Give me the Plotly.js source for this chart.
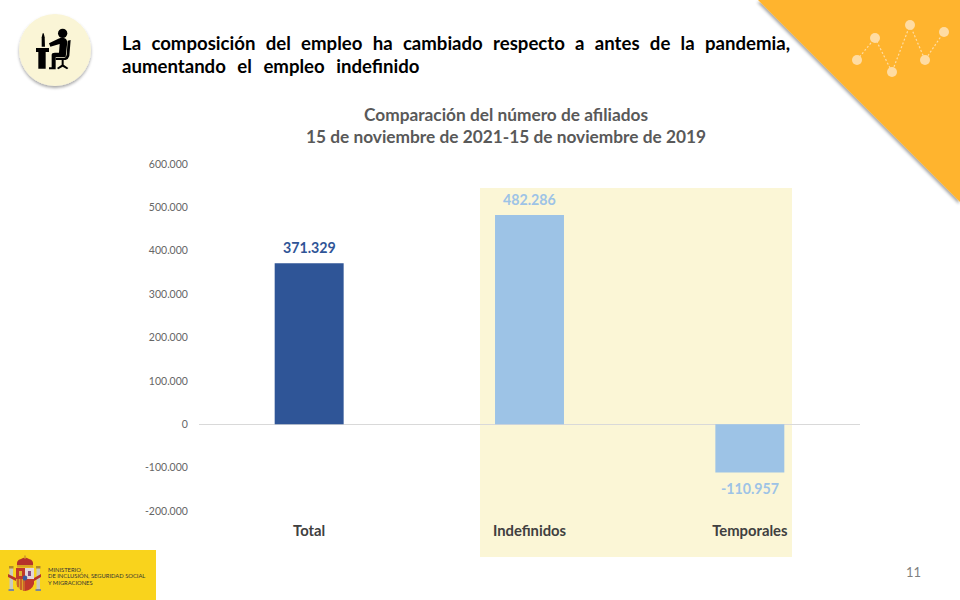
<!DOCTYPE html>
<html><head><meta charset="utf-8">
<script src="https://cdn.plot.ly/plotly-3.0.1.min.js"></script>
<style>
html,body{margin:0;padding:0;background:#fff;width:960px;height:600px;overflow:hidden;font-family:Lato,sans-serif}
#deco{position:absolute;left:0;top:0;z-index:0}
#chart{position:absolute;left:0;top:0;width:960px;height:600px;z-index:1}
.head{position:absolute;left:122px;width:668px;z-index:2;font-weight:700;font-size:18.6px;color:#000;line-height:24px;white-space:nowrap}
#h1{top:31px;text-align:justify;text-align-last:justify;white-space:normal}
#h2{top:54px;word-spacing:7px}
#pg{position:absolute;left:906px;top:564px;font-size:13px;color:#7f7f7f;z-index:2}
</style></head><body>
<svg id="deco" width="960" height="600" viewBox="0 0 960 600">
<defs>
<filter id="sh" x="-20%" y="-20%" width="140%" height="140%"><feDropShadow dx="-1" dy="2" stdDeviation="1.5" flood-color="#000" flood-opacity="0.35"/></filter>
<filter id="sh2" x="-20%" y="-20%" width="140%" height="140%"><feDropShadow dx="0" dy="2" stdDeviation="1.5" flood-color="#000" flood-opacity="0.35"/></filter>
</defs>
<polygon points="758,0 960,0 960,202" fill="#FFB42E" filter="url(#sh)"/>
<g stroke="#FFDCA3" stroke-width="1.2" stroke-dasharray="2 2" fill="none">
<polyline points="857,60 875,38 892,72 910,25 925,60 944,32"/>
</g>
<g fill="#FFDCA3">
<circle cx="857" cy="60" r="5"/><circle cx="875" cy="38" r="5"/><circle cx="892" cy="72" r="5"/>
<circle cx="910" cy="25" r="5"/><circle cx="925" cy="60" r="5"/><circle cx="944" cy="32" r="5"/>
</g>
<circle cx="55" cy="50" r="36" fill="#FAF5D6" filter="url(#sh2)"/>
<g fill="#000" transform="translate(25 20) scale(0.3333)">
<circle cx="113" cy="40" r="14"/>
<path d="M72 70 L100 56 Q112 50 122 56 Q128 60 126 75 L122 112 L92 112 L92 148 L72 148 L72 142 L80 142 L80 105 Q80 98 90 98 L102 98 L104 72 L76 80 Z"/>
<path d="M33 84 H72 V96 H62 V146 H40 V96 H33 Z"/>
<path d="M50 80 L50 52 L53 40 L56 40 L59 52 L60 80 Z"/>
<path d="M128 62 L137 60 L133 108 Q130 118 122 120 L92 120 L92 114 L118 114 Q124 112 125 104 Z"/>
<path d="M110 120 H116 V134 L130 144 L126 148 L113 140 L100 148 L96 144 L110 134 Z"/>
</g>
<rect x="0" y="550" width="156" height="50" fill="#F9D31C"/>
<g>
<rect x="9.5" y="568" width="3.5" height="21" fill="#c9c9bd"/><rect x="36.5" y="568" width="3.5" height="21" fill="#c9c9bd"/>
<rect x="9" y="566" width="4.5" height="2.5" fill="#b08a2a"/><rect x="36" y="566" width="4.5" height="2.5" fill="#b08a2a"/>
<rect x="8.5" y="589" width="5.5" height="2" fill="#7d8a99"/><rect x="35.5" y="589" width="5.5" height="2" fill="#7d8a99"/>
<path d="M8 574 L16 578 L16 581 L8 577 Z M41 574 L34 578 L34 581 L41 577 Z" fill="#b5332b"/>
<rect x="16" y="568" width="9" height="11" fill="#c0392b"/>
<rect x="19" y="571" width="3" height="5" fill="#e0b030"/>
<rect x="25" y="568" width="9" height="11" fill="#e3d5da"/>
<rect x="28" y="571" width="3" height="5" fill="#8a4a7a"/>
<path d="M16 579 H25 V591 Q18 590 16 584 Z" fill="#dca52a"/>
<path d="M18 579 V587 M21 579 V590 M24 579 V591" stroke="#c0392b" stroke-width="1.2"/>
<path d="M25 579 H34 V584 Q32 590 25 591 Z" fill="#c0392b"/>
<ellipse cx="25" cy="578" rx="2.3" ry="2.6" fill="#3b5aa0"/>
<path d="M17 566 Q16 560 21 559 Q25 556 29 559 Q34 560 33 566 Z" fill="#b5332b"/>
<rect x="17" y="565" width="16" height="2.5" fill="#d8a222"/>
<rect x="24" y="555.5" width="2" height="3" fill="#d8a222"/>
</g>
<g font-family="Lato, sans-serif" font-size="5.8" fill="#333">
<text x="48" y="571.5">MINISTERIO</text>
<text x="48" y="578">DE INCLUSIÓN, SEGURIDAD SOCIAL</text>
<text x="48" y="584.5">Y MIGRACIONES</text>
</g>
</svg>
<div id="chart"></div>
<div class="head" id="h1">La composición del empleo ha cambiado respecto a antes de la pandemia,</div>
<div class="head" id="h2">aumentando el empleo indefinido</div>
<div id="pg">11</div>
<script>
var categories = ['Total', 'Indefinidos', 'Temporales'];
var afiliados = [371329, 482286, -110957];
var valueLabels = ['371.329', '482.286', '-110.957'];
var barColors = ['#2F5597', '#9DC3E6', '#9DC3E6'];
var labelColors = ['#2F5597', '#9DC3E6', '#9DC3E6'];
var yTicks = [600000, 500000, 400000, 300000, 200000, 100000, 0, -100000, -200000];
var yTickLabels = ['600.000', '500.000', '400.000', '300.000', '200.000', '100.000', '0', '-100.000', '-200.000'];
var chartTitle = 'Comparación del número de afiliados<br>15 de noviembre de 2021-15 de noviembre de 2019';

var W = 960, H = 600;
var font = 'Lato, sans-serif';
var trace = {
  type: 'bar', x: categories, y: afiliados, width: 0.313,
  marker: {color: barColors, line: {width: 0}},
  hoverinfo: 'x+y'
};
var labelNotes = categories.map(function (c, i) {
  return {x: c, y: afiliados[i], xref: 'x', yref: 'y', text: valueLabels[i], showarrow: false,
          yanchor: 'middle', xanchor: 'center', yshift: afiliados[i] >= 0 ? 15.5 : -16,
          font: {family: font, size: 14.2, color: labelColors[i], weight: 700}};
});
var layout = {
  width: W, height: H, autosize: false, showlegend: false,
  paper_bgcolor: 'rgba(0,0,0,0)', plot_bgcolor: 'rgba(0,0,0,0)',
  margin: {l: 199, r: 100, t: 164, b: 89, pad: 0},
  font: {family: font, color: '#595959'},
  title: {text: chartTitle, font: {family: font, size: 17.3, color: '#595959', weight: 700},
          xref: 'container', x: 506 / W, xanchor: 'center', yref: 'container', y: 1 - 120.5 / H, yanchor: 'top'},
  xaxis: {type: 'category', categoryorder: 'array', categoryarray: categories, range: [-0.5, 2.5],
          showgrid: false, zeroline: false, showline: false, anchor: 'y', side: 'bottom',
          ticks: 'outside', ticklen: 6, tickcolor: 'rgba(0,0,0,0)',
          tickfont: {family: font, size: 14.8, color: '#404040', weight: 700}},
  yaxis: {range: [-200000, 600000], tickvals: yTicks, ticktext: yTickLabels, tickmode: 'array',
          showgrid: false, showline: false, zeroline: true, zerolinecolor: '#D9D9D9', zerolinewidth: 1,
          ticks: 'outside', ticklen: 8, tickcolor: 'rgba(0,0,0,0)',
          tickfont: {family: font, size: 10.5, color: '#666666'}},
  annotations: labelNotes,
  shapes: [{type: 'rect', layer: 'below', xref: 'paper', yref: 'paper',
            x0: (480 - 199) / 661, x1: (792 - 199) / 661, y0: (511 - 557) / 347, y1: (511 - 188) / 347,
            fillcolor: '#FBF6D6', line: {width: 0}}]
};
Plotly.newPlot('chart', [trace], layout, {displayModeBar: false, staticPlot: true});
</script>
</body></html>
